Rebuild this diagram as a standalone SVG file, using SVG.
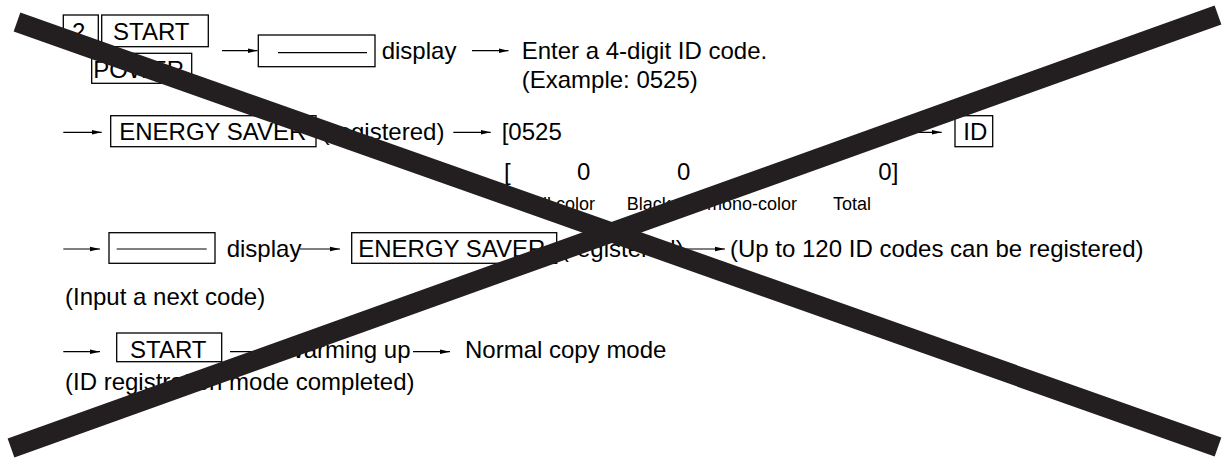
<svg xmlns="http://www.w3.org/2000/svg" width="1224" height="458" viewBox="0 0 1224 458">
<style>
.t{font-family:"Liberation Sans",Arial,Helvetica,sans-serif;font-size:24px;fill:#000}
.s{font-size:18px}
.box{fill:none;stroke:#000;stroke-width:1.3}
.ln{stroke:#000;stroke-width:1.2}
.ar{stroke:#000;stroke-width:1.2;fill:none;marker-end:url(#ah)}
.band{stroke:#231f20;stroke-width:20;stroke-linecap:butt}
</style>
<defs>
<marker id="ah" markerUnits="userSpaceOnUse" markerWidth="10" markerHeight="6" refX="10" refY="3" orient="auto">
<path d="M0,0.7 L10,3 L0,5.3 z" fill="#000"/>
</marker>
</defs>
<rect width="1224" height="458" fill="#fff"/>

<g id="key-2"><rect class="box" x="63.3" y="15" width="35" height="31.7"/><text class="t" x="72" y="39.5">2</text></g>
<g id="key-start1"><rect class="box" x="101.7" y="15" width="106.6" height="31.7"/><text class="t" x="113" y="39.5">START</text></g>
<g id="key-power"><rect class="box" x="91.7" y="53.3" width="100" height="30"/><text class="t" x="93.3" y="77.5">POWER</text></g>
<g id="disp1"><rect class="box" x="258.3" y="35" width="116.7" height="31.7"/><line class="ln" x1="278" y1="52.7" x2="367" y2="52.7"/><text class="t" x="381.7" y="59.4">display</text></g>
<g id="enter"><text class="t" x="521.7" y="59.4">Enter a 4-digit ID code.</text><text class="t" x="521.7" y="88">(Example: 0525)</text></g>

<g id="es1"><rect class="box" x="110.7" y="115.7" width="205.3" height="31"/><text class="t" x="119.3" y="139.8" textLength="187" lengthAdjust="spacingAndGlyphs">ENERGY SAVER</text><text class="t" x="321.7" y="139.8">(registered)</text></g>
<g id="code"><text class="t" x="501.7" y="139.8">[0525</text></g>
<g id="key-id"><rect class="box" x="955" y="115.7" width="37.7" height="31"/><text class="t" x="963.3" y="139.8">ID</text></g>
<g id="counters">
<text class="t" x="504" y="180">[</text>
<text class="t" x="577" y="180">0</text>
<text class="t" x="677" y="180">0</text>
<text class="t" x="878.3" y="180">0]</text>
<text class="t s" x="522" y="210">Full color</text>
<text class="t s" x="626.7" y="210">Black</text>
<text class="t s" x="707" y="210">mono-color</text>
<text class="t s" x="833" y="210">Total</text>
</g>

<g id="disp2"><rect class="box" x="109" y="232.7" width="106" height="30.6"/><line class="ln" x1="116.7" y1="249" x2="206.7" y2="249"/><text class="t" x="226.7" y="256.6">display</text></g>
<g id="es2"><rect class="box" x="351.7" y="232.7" width="205" height="30.6"/><text class="t" x="358.3" y="256.6" textLength="187" lengthAdjust="spacingAndGlyphs">ENERGY SAVER</text><text class="t" x="561" y="256.6">(registered)</text></g>
<g id="upto"><text class="t" x="730" y="256.6">(Up to 120 ID codes can be registered)</text></g>
<g id="next"><text class="t" x="65" y="305">(Input a next code)</text></g>

<g id="key-start2"><rect class="box" x="116.7" y="333" width="105" height="28.7"/><text class="t" x="130" y="358.3">START</text></g>
<g id="warm"><text class="t" x="282" y="358.3">Warming up</text></g>
<g id="normal"><text class="t" x="465" y="358.3">Normal copy mode</text></g>
<g id="done"><text class="t" x="65" y="390">(ID registration mode completed)</text></g>

<g id="connectors">
<line class="ar" x1="222" y1="50.7" x2="257.5" y2="50.7"/>
<line class="ar" x1="472" y1="50.7" x2="508.5" y2="50.7"/>
<line class="ar" x1="63.3" y1="132.3" x2="101.7" y2="132.3"/>
<line class="ar" x1="453.3" y1="132.3" x2="490.7" y2="132.3"/>
<line class="ar" x1="905" y1="132.3" x2="941.7" y2="132.3"/>
<line class="ar" x1="63.3" y1="249" x2="100" y2="249"/>
<line class="ar" x1="300" y1="249" x2="340" y2="249"/>
<line class="ar" x1="686" y1="249" x2="725" y2="249"/>
<line class="ar" x1="63.3" y1="351.7" x2="100" y2="351.7"/>
<line class="ar" x1="230" y1="351.7" x2="268" y2="351.7"/>
<line class="ar" x1="413" y1="351.7" x2="450" y2="351.7"/>
</g>

<g id="cross">
<line class="band" x1="17" y1="22" x2="1218" y2="447"/>
<line class="band" x1="11" y1="448" x2="1218" y2="15"/>
</g>
</svg>
